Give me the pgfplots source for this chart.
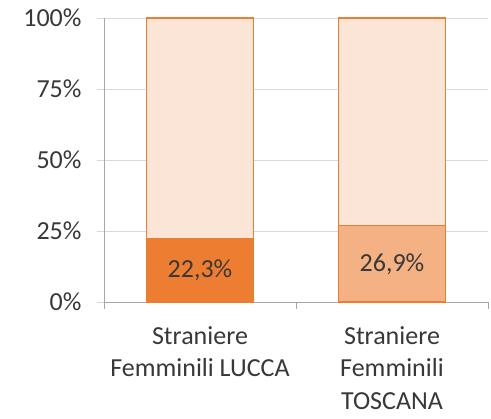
\documentclass[border=0pt]{standalone}
\usepackage{pgfplots}
\pgfplotsset{compat=1.18}
\usepackage{fontspec}
\setmainfont{Carlito}
\definecolor{txt}{HTML}{383838}
\definecolor{gridc}{HTML}{D9D9D9}
\definecolor{axc}{HTML}{A6A6A6}
\definecolor{org}{HTML}{ED7D31}
\definecolor{lorg}{HTML}{F4B183}
\definecolor{pale}{HTML}{FBE5D6}
\begin{document}
\begin{tikzpicture}
\useasboundingbox (-104pt,-117pt) rectangle (387pt,302pt);
\begin{axis}[
  scale only axis,
  width=384pt, height=284pt,
  xmin=-0.5, xmax=1.5,
  ymin=0, ymax=100,
  ybar, bar width=107pt, bar shift=0pt,
  axis lines*=left,
  axis line style={axc, line width=0.8pt},
  ytick={0,25,50,75,100},
  yticklabels={0\%,25\%,50\%,75\%,100\%},
  ymajorgrids,
  grid style={gridc, line width=0.8pt},
  major tick style={axc, line width=0.8pt},
  ytick style={gridc},
  tick align=outside,
  major tick length=7pt,
  xtick={-0.5,0.5,1.5},
  xticklabels={},
  extra x ticks={0,1},
  extra x tick labels={{Straniere\\[1.5pt]Femminili LUCCA},{Straniere\\[1.5pt]Femminili\\[1.5pt]TOSCANA}},
  extra x tick style={major tick length=0pt, grid=none,
    tick label style={align=center, yshift=-21pt}},
  tick label style={font=\fontsize{26}{31}\selectfont, text=txt},
  yticklabel style={xshift=-12pt},
  /pgf/number format/assume math mode=true,
  clip=false,
]
\addplot[fill=pale, draw=org, line width=1.2pt] coordinates {(0,100) (1,100)};
\addplot[fill=org, draw=org, line width=1.2pt] coordinates {(0,22.3)};
\addplot[fill=lorg, draw=org, line width=1.2pt] coordinates {(1,26.9)};
\node[font=\fontsize{26}{31}\selectfont, text=txt] at (axis cs:0,11.15) {22,3\%};
\node[font=\fontsize{26}{31}\selectfont, text=txt] at (axis cs:1,13.45) {26,9\%};
\end{axis}
\end{tikzpicture}
\end{document}
